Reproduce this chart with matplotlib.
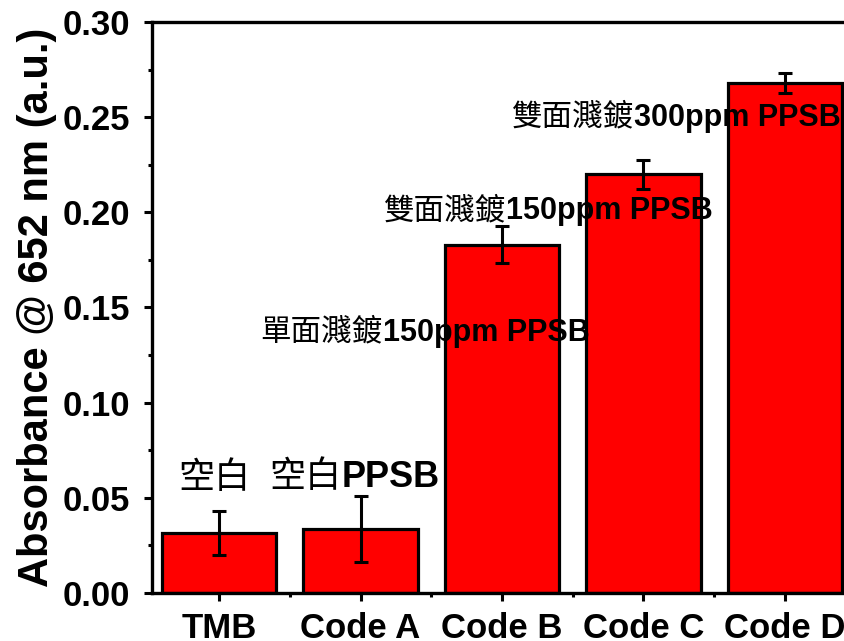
import matplotlib
matplotlib.use("Agg")
import matplotlib.pyplot as plt
from matplotlib.ticker import MultipleLocator, FormatStrFormatter, FixedLocator
from matplotlib.offsetbox import TextArea, HPacker, AnnotationBbox

# samples, mean absorbance and standard deviation
samples = ["TMB", "Code A", "Code B", "Code C", "Code D"]
absorbance = [0.0315, 0.0336, 0.183, 0.220, 0.268]
std_dev = [0.0115, 0.0175, 0.0097, 0.0075, 0.0053]

# notes written above the bars: (chinese part, latin part, x, y)
note_cjk = ["空白", "空白", "單面濺鍍", "雙面濺鍍", "雙面濺鍍"]
note_latin = ["", "PPSB", "150ppm PPSB", "150ppm PPSB", "300ppm PPSB"]
note_x = [-0.035, 0.954, 1.456, 2.325, 3.23]
note_y = [0.0604, 0.0609, 0.137, 0.201, 0.250]
note_size = [26, 26, 22, 22, 22]

LATIN = "Liberation Sans"
CJK = "Noto Sans CJK TC"

fig = plt.figure(figsize=(8.44, 6.41), dpi=100)
ax = fig.add_axes([0.1801, 0.0749, 0.8294, 0.8908])

x = list(range(len(samples)))
ax.bar(x, absorbance, width=0.81, color="#ff0000", edgecolor="black",
       linewidth=2.3, zorder=2)
ax.errorbar(x, absorbance, yerr=std_dev, fmt="none", ecolor="black",
            elinewidth=2.2, capsize=5, capthick=2.2, zorder=3)

ax.set_xlim(-0.475, 4.475)
ax.set_ylim(0, 0.30)

ax.set_xticks(x)
ax.set_xticklabels(samples)
ax.xaxis.set_minor_locator(FixedLocator([0.5, 1.5, 2.5, 3.5]))
ax.yaxis.set_major_locator(MultipleLocator(0.05))
ax.yaxis.set_minor_locator(MultipleLocator(0.025))
ax.yaxis.set_major_formatter(FormatStrFormatter("%.2f"))

ax.tick_params(which="major", direction="out", length=6, width=2.2)
ax.tick_params(which="minor", direction="out", length=3, width=2.2)
ax.tick_params(axis="y", which="major", pad=10)
ax.tick_params(axis="x", which="major", pad=8)
for lab in ax.get_xticklabels() + ax.get_yticklabels():
    lab.set_fontfamily(LATIN)
    lab.set_fontweight("bold")
    lab.set_fontsize(25)

for side in ["left", "bottom", "top", "right"]:
    ax.spines[side].set_linewidth(2.4)

ax.set_ylabel("Absorbance @ 652 nm (a.u.)", fontfamily=LATIN,
              fontweight="bold", fontsize=30)
ax.yaxis.set_label_coords(-0.136, 0.5)

# mixed-font notes: regular CJK followed by bold latin text
for cjk, latin, nx, ny, size in zip(note_cjk, note_latin, note_x, note_y, note_size):
    parts = [TextArea(cjk, textprops=dict(family=CJK, fontsize=size))]
    if latin:
        parts.append(TextArea(latin, textprops=dict(family=LATIN, fontsize=size,
                                                    fontweight="bold")))
    box = HPacker(children=parts, align="baseline", pad=0, sep=0)
    ab = AnnotationBbox(box, (nx, ny), xycoords="data", frameon=False,
                        box_alignment=(0.5, 0.5), pad=0, zorder=4)
    ax.add_artist(ab)

fig.savefig("out.png", dpi=100)
